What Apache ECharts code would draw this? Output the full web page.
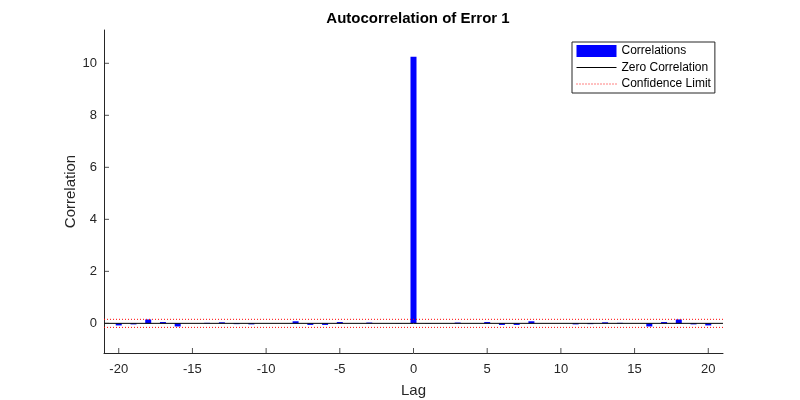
<!DOCTYPE html>
<html>
<head>
<meta charset="utf-8">
<script src="https://cdn.jsdelivr.net/npm/echarts@6/dist/echarts.min.js"></script>
<style>html,body{margin:0;padding:0;background:#fff}#c{width:800px;height:400px}</style>
</head>
<body>
<div id="c"></div>
<script>
const lags = [-20,-19,-18,-17,-16,-15,-14,-13,-12,-11,-10,-9,-8,-7,-6,-5,-4,-3,-2,-1,0,1,2,3,4,5,6,7,8,9,10,11,12,13,14,15,16,17,18,19,20];
const correlations = [-0.08,-0.04,0.15,0.05,-0.12,0.0,0.02,0.04,-0.03,-0.04,0.0,0.0,0.08,-0.06,-0.06,0.05,0.0,0.03,0.0,0.01,10.25,0.01,0.0,0.03,0.0,0.05,-0.06,-0.06,0.08,0.0,0.0,-0.04,-0.03,0.04,0.02,0.0,-0.12,0.05,0.15,-0.04,-0.08];
const confidenceLimit = 0.155;
const xRange = [-21, 21];
const yRange = [-1.14, 11.28];
const xTicks = [-20,-15,-10,-5,0,5,10,15,20];
const yTicks = [0,2,4,6,8,10];

const font = 'Arial, "Liberation Sans", Helvetica, sans-serif';
const axisColor = '#262626';
const noSymbol = {color: 'rgba(0,0,0,0)', borderColor: 'rgba(0,0,0,0)', borderWidth: 0};

const barData = lags.map((l, i) => [l, correlations[i]]);
const xTickMarks = xTicks.map(t => [t, yRange[0]]);
const yTickMarks = yTicks.map(t => [xRange[0], t]);

const chart = echarts.init(document.getElementById('c'), null, {renderer: 'canvas'});
chart.setOption({
  animation: false,
  backgroundColor: '#ffffff',
  title: {
    text: 'Autocorrelation of Error 1',
    left: 413, top: 6, textAlign: 'center',
    textStyle: {fontFamily: font, fontSize: 15, fontWeight: 'bold', color: '#000'}
  },
  legend: {
    orient: 'vertical',
    left: 572, top: 42,
    padding: [3, 4, 3, 4],
    itemWidth: 40, itemHeight: 12, itemGap: 4.5,
    borderColor: axisColor, borderWidth: 1, backgroundColor: '#fff',
    lineStyle: {width: 1},
    textStyle: {fontFamily: font, fontSize: 12, color: '#000'},
    data: [
      {name: 'Correlations', icon: 'rect'},
      {name: 'Zero Correlation', itemStyle: noSymbol},
      {name: 'Confidence Limit', itemStyle: noSymbol}
    ]
  },
  grid: {left: 104, right: 77, top: 30, bottom: 47, containLabel: false, outerBoundsMode: 'none'},
  xAxis: {
    type: 'value', min: xRange[0], max: xRange[1],
    name: 'Lag', nameLocation: 'middle', nameGap: 30, nameMoveOverlap: false,
    nameTextStyle: {fontFamily: font, fontSize: 15, color: axisColor},
    axisLine: {show: true, onZero: false, lineStyle: {color: axisColor, width: 1}},
    axisTick: {show: false},
    axisLabel: {customValues: xTicks, fontFamily: font, fontSize: 13, color: axisColor, margin: 10},
    splitLine: {show: false}
  },
  yAxis: {
    type: 'value', min: yRange[0], max: yRange[1],
    name: 'Correlation', nameLocation: 'middle', nameGap: 26, nameMoveOverlap: false,
    nameTextStyle: {fontFamily: font, fontSize: 15, color: axisColor},
    axisLine: {show: true, onZero: false, lineStyle: {color: axisColor, width: 1}},
    axisTick: {show: false},
    axisLabel: {customValues: yTicks, fontFamily: font, fontSize: 13, color: axisColor, margin: 7},
    splitLine: {show: false}
  },
  series: [
    {
      name: 'Correlations', type: 'bar', data: barData, barWidth: 6,
      itemStyle: {color: '#0000ff'}
    },
    {
      name: 'Zero Correlation', type: 'line', data: [[xRange[0], 0], [xRange[1], 0]],
      symbol: 'none', lineStyle: {color: '#000', width: 1}, z: 3
    },
    {
      name: 'Confidence Limit', type: 'line', data: [[xRange[0], confidenceLimit], [xRange[1], confidenceLimit]],
      symbol: 'none', lineStyle: {color: '#ff0000', width: 1, type: [1, 2]}, z: 4
    },
    {
      name: 'Confidence Limit', type: 'line', data: [[xRange[0], -confidenceLimit], [xRange[1], -confidenceLimit]],
      symbol: 'none', lineStyle: {color: '#ff0000', width: 1, type: [1, 2]}, z: 4
    },
    {
      name: 'xTicks', type: 'scatter', data: xTickMarks, silent: true, clip: false,
      symbol: 'rect', symbolSize: [1, 5], symbolOffset: [0, -2.5],
      itemStyle: {color: axisColor}, z: 5
    },
    {
      name: 'yTicks', type: 'scatter', data: yTickMarks, silent: true, clip: false,
      symbol: 'rect', symbolSize: [5, 1], symbolOffset: [2.5, 0],
      itemStyle: {color: axisColor}, z: 5
    }
  ]
});
</script>
</body>
</html>
